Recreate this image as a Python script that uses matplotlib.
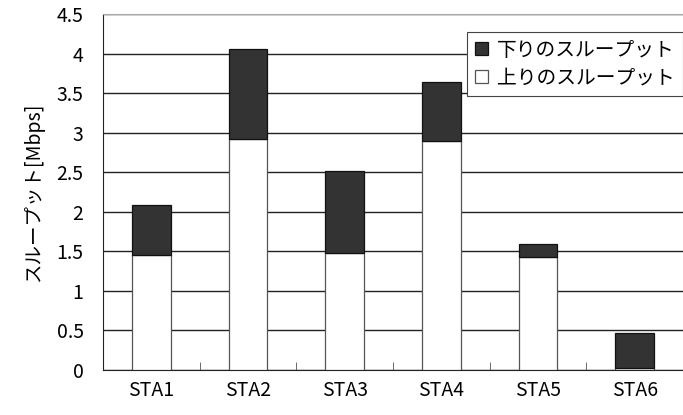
import matplotlib
matplotlib.use("Agg")
import matplotlib.pyplot as plt
import numpy as np

plt.rcParams['font.family'] = ['Noto Sans CJK JP', 'DejaVu Sans']

categories = ["STA1", "STA2", "STA3", "STA4", "STA5", "STA6"]
up_throughput = [1.45, 2.92, 1.48, 2.89, 1.43, 0.02]
down_throughput = [0.64, 1.14, 1.03, 0.75, 0.16, 0.45]
yticks = [0, 0.5, 1, 1.5, 2, 2.5, 3, 3.5, 4, 4.5]
ytick_labels = ["0", "0.5", "1", "1.5", "2", "2.5", "3", "3.5", "4", "4.5"]

fig = plt.figure(figsize=(6.83, 4.15), dpi=100)
ax = fig.add_axes([103/683, 1 - 370/415, 580/683, (370-14)/415])

x = np.arange(len(categories))
width = 0.4
ax.bar(x, up_throughput, width, color='white', edgecolor='#555555', linewidth=0.9,
       label='上りのスループット', zorder=3)
ax.bar(x, down_throughput, width, bottom=up_throughput, color='#333333',
       edgecolor='#111111', linewidth=0.9, label='下りのスループット', zorder=3)

ax.set_xlim(-0.5, len(categories) - 0.5)
ax.set_ylim(0, 4.5)
ax.set_yticks(yticks)
ax.set_yticklabels(ytick_labels, fontsize=14)
ax.tick_params(axis='y', length=0, pad=14)
ax.set_xticks(x)
ax.set_xticklabels(categories, fontsize=14)
ax.tick_params(axis='x', length=0, pad=7)
ax.set_xticks(np.arange(len(categories) + 1) - 0.5, minor=True)
ax.tick_params(axis='x', which='minor', direction='in', length=6, color='#555555')
ax.yaxis.grid(True, color='#222222', linewidth=1.0, zorder=0)

ax.spines['right'].set_visible(False)
ax.spines['top'].set_color('#aaaaaa')
ax.spines['left'].set_color('#222222')
ax.spines['bottom'].set_color('#222222')

ax.set_ylabel('スループット[Mbps]', fontsize=14, labelpad=9)

handles, labels = ax.get_legend_handles_labels()
leg = ax.legend(handles[::-1], labels[::-1], loc='upper right',
                bbox_to_anchor=(1.0, 0.95), fontsize=14.2, frameon=True,
                fancybox=False, edgecolor='#444444', framealpha=1,
                handlelength=0.65, handleheight=0.65, handletextpad=0.5,
                borderpad=0.4, labelspacing=0.35, borderaxespad=0.0)
leg.get_frame().set_linewidth(0.8)

fig.savefig('out.png', dpi=100)
